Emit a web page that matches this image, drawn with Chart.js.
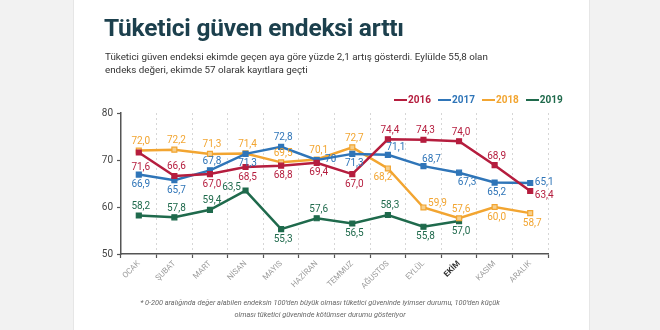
<!DOCTYPE html>
<html lang="tr">
<head>
<meta charset="UTF-8">
<title>Tüketici güven endeksi arttı</title>
<script src="https://cdn.jsdelivr.net/npm/chart.js@4.4.1/dist/chart.umd.min.js"></script>
<style>
  html, body { margin: 0; padding: 0; }
  body { width: 660px; height: 330px; background: #f2f2f2; position: relative; overflow: hidden; font-family: Roboto, "Open Sans", sans-serif; }
  #card { position: absolute; left: 73px; top: 0; width: 515px; height: 330px; background: #fff; border-left: 1px solid #e6e6e6; border-right: 1px solid #e6e6e6; }
  #chart { position: absolute; left: 0; top: 0; }
  #title { position: absolute; left: 104px; top: 13px; font-size: 24.5px; font-weight: 700; color: #1c404d; letter-spacing: -0.2px; white-space: nowrap; }
  #sub { position: absolute; left: 105px; top: 50px; font-size: 9.8px; line-height: 13px; color: #333; width: 385px; }
  #legend { position: absolute; left: 394px; top: 94px; display: flex; font-size: 10px; font-weight: 700; }
  #legend span { display: flex; align-items: center; margin-right: 7px; }
  #legend i { display: inline-block; width: 13px; height: 2px; margin-right: 1px; }
  #note { position: absolute; left: 130px; width: 380px; top: 297px; text-align: center; font-size: 7.3px; line-height: 12px; font-style: italic; color: #666; }
</style>
</head>
<body>
<div id="card"></div>
<canvas id="chart" width="660" height="330"></canvas>
<div id="title">Tüketici güven endeksi arttı</div>
<div id="sub">Tüketici güven endeksi ekimde geçen aya göre yüzde 2,1 artış gösterdi. Eylülde 55,8 olan endeks değeri, ekimde 57 olarak kayıtlara geçti</div>
<div id="legend"></div>
<div id="note">* 0-200 aralığında değer alabilen endeksin 100’den büyük olması tüketici güveninde iyimser durumu, 100’den küçük<br>olması tüketici güveninde kötümser durumu gösteriyor</div>

<script>
  // aylar
  var months = ["OCAK", "ŞUBAT", "MART", "NİSAN", "MAYIS", "HAZİRAN", "TEMMUZ", "AĞUSTOS", "EYLÜL", "EKİM", "KASIM", "ARALIK"];
  var yTicks = [50, 60, 70, 80];

  var values2016 = [71.6, 66.6, 67.0, 68.5, 68.8, 69.4, 67.0, 74.4, 74.3, 74.0, 68.9, 63.4];
  var values2017 = [66.9, 65.7, 67.8, 71.3, 72.8, 70, 71.3, 71.1, 68.7, 67.3, 65.2, 65.1];
  var values2018 = [72.0, 72.2, 71.3, 71.4, 69.5, 70.1, 72.7, 68.2, 59.9, 57.6, 60.0, 58.7];
  var values2019 = [58.2, 57.8, 59.4, 63.5, 55.3, 57.6, 56.5, 58.3, 55.8, 57.0, null, null];

  // etiket yerleri: a = ust, b = alt, b2 = daha alt, r = sag, rb/ra = sag alt/ust, l = sol
  var place2016 = ['b2', 'a', 'b', 'b', 'b', 'b', 'b', 'a', 'a', 'a', 'a', 'rb'];
  var place2017 = ['b', 'b', 'a', 'b', 'a', 'r', 'b', 'ar', 'ar', 'br', 'b', 'r'];
  var place2018 = ['a', 'a', 'a', 'a', 'a', 'a', 'a', 'bl', 'ra', 'a', 'b', 'b'];
  var place2019 = ['a', 'a', 'a', 'l', 'b', 'a', 'b', 'a', 'b', 'b', 'b', 'b'];

  var series = [
    { label: '2016', data: values2016, color: '#b51d3e', fill: '#b51d3e', place: place2016 },
    { label: '2017', data: values2017, color: '#2f75b8', fill: '#2f75b8', place: place2017 },
    { label: '2018', data: values2018, color: '#f2a531', fill: '#f6cf8c', place: place2018 },
    { label: '2019', data: values2019, color: '#1f6a4c', fill: '#1f6a4c', place: place2019 }
  ];

  // legend
  var legend = document.getElementById('legend');
  series.forEach(function (s) {
    var item = document.createElement('span');
    item.style.color = s.color;
    item.innerHTML = '<i style="background:' + s.color + '"></i>' + s.label;
    legend.appendChild(item);
  });

  function fmt(v) {
    if (v === 70) return '70';
    return v.toFixed(1).replace('.', ',');
  }

  var valueLabels = {
    id: 'valueLabels',
    afterDatasetsDraw: function (chart) {
      var ctx = chart.ctx;
      ctx.save();
      ctx.font = '10px Roboto, sans-serif';
      ctx.textAlign = 'center';
      ctx.textBaseline = 'middle';
      chart.data.datasets.forEach(function (ds, di) {
        var meta = chart.getDatasetMeta(di);
        ctx.fillStyle = ds.borderColor;
        meta.data.forEach(function (pt, i) {
          var v = ds.data[i];
          if (v == null) return;
          var p = ds.place[i];
          var x = pt.x + 2, y = pt.y;
          if (p === 'a') y -= 9;
          else if (p === 'ar') { x += 6; y -= 7; }
          else if (p === 'b') y += 10;
          else if (p === 'br') { x += 6; y += 10; }
          else if (p === 'bl') { x -= 7; y += 9; }
          else if (p === 'b2') y += 15;
          else if (p === 'r') { x += 12; y -= 1; }
          else if (p === 'rb') { x += 12; y += 4; }
          else if (p === 'ra') { x += 12; y -= 4; }
          else if (p === 'l') { x -= 16; y -= 3; }
          ctx.fillText(fmt(v), x, y);
        });
      });
      ctx.restore();
    }
  };

  new Chart(document.getElementById('chart'), {
    type: 'line',
    data: {
      labels: months,
      datasets: series.map(function (s) {
        return {
          label: s.label,
          data: s.data,
          place: s.place,
          borderColor: s.color,
          backgroundColor: s.fill,
          borderWidth: 2.5,
          pointStyle: 'rect',
          pointRadius: 3.5,
          pointBorderWidth: 1.2,
          pointBorderColor: s.color,
          pointBackgroundColor: s.fill,
          tension: 0,
          fill: false
        };
      })
    },
    options: {
      responsive: false,
      animation: false,
      events: [],
      layout: { padding: { left: 93, right: 112, top: 113, bottom: 36 } },
      plugins: { legend: { display: false }, tooltip: { enabled: false } },
      scales: {
        x: {
          offset: true,
          afterFit: function (scale) { scale.height = 40; },
          grid: {
            offset: true,
            color: '#d6d6d6',
            lineWidth: 1,
            drawTicks: true,
            tickLength: 4,
            tickColor: '#555',
            tickWidth: 1.2
          },
          border: { color: '#555', width: 1.5, dash: [2, 3] },
          ticks: {
            autoSkip: false,
            minRotation: 45,
            maxRotation: 45,
            padding: 1,
            color: function (c) { return c.index === 9 ? '#333' : '#9a9a9a'; },
            font: function (c) {
              return { family: 'Roboto, sans-serif', size: 8, weight: c.index === 9 ? '700' : '400' };
            }
          }
        },
        y: {
          min: 50,
          max: 80,
          afterFit: function (scale) { scale.width = 28; },
          afterBuildTicks: function (scale) {
            scale.ticks = yTicks.map(function (v) { return { value: v }; });
          },
          grid: {
            drawOnChartArea: false,
            drawTicks: true,
            tickLength: 4,
            tickColor: '#555',
            tickWidth: 1.2
          },
          border: { color: '#555', width: 1.5 },
          ticks: {
            padding: 4,
            color: '#444',
            font: { family: 'Roboto, sans-serif', size: 10 }
          }
        }
      }
    },
    plugins: [valueLabels]
  });
</script>
</body>
</html>
